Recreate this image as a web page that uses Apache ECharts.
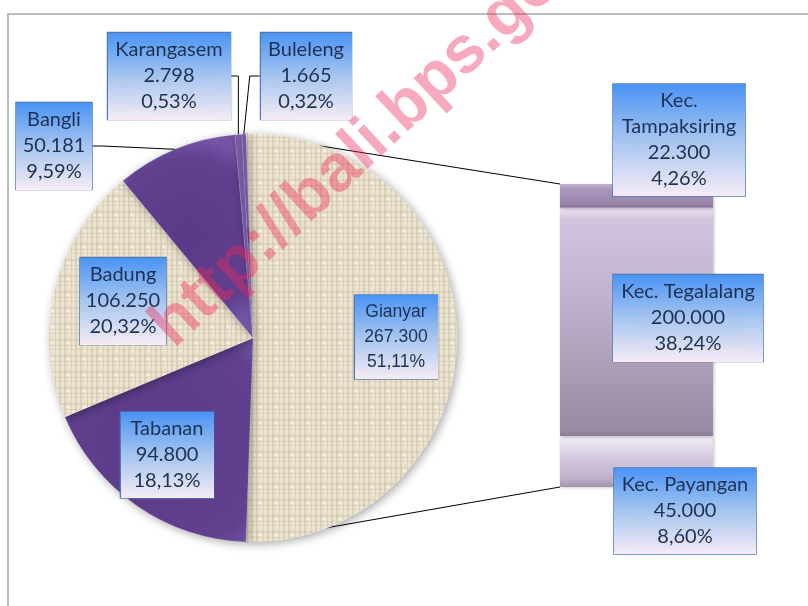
<!DOCTYPE html>
<html><head><meta charset="utf-8">
<script src="https://cdn.jsdelivr.net/npm/echarts@6/dist/echarts.min.js"></script>
<style>html,body{margin:0;padding:0;background:#fff}#c{width:808px;height:606px}</style>
</head><body><div id="c"></div>
<script>
// ---- data ----
const regencies = ['Gianyar', 'Tabanan', 'Badung', 'Bangli', 'Karangasem', 'Buleleng'];
const regencyValues = [267300, 94800, 106250, 50181, 2798, 1665];
const districts = ['Kec. Tampaksiring', 'Kec. Tegalalang', 'Kec. Payangan'];
const districtValues = [22300, 200000, 45000];

// ---- layout / style (not data) ----
const PIE_CX = 253, PIE_CY = 338, PIE_R = 204, PIE_START = 92;
const GRID = { left: 560, top: 184, width: 153, height: 303 };
// label boxes: [centerX, centerY, width, height]
const pieLabelBoxes = [[396, 337, 83, 84], [167, 455, 93, 86], [123, 301, 86, 87], [54, 146, 76, 87], [169, 76, 123, 87], [306, 76, 91, 87]];
const pieLabelOutside = [false, false, false, true, true, true];
const pieColors = ['beige', 'purple', 'beige', 'purple', 'purple2', 'purple'];
const barLabelBoxes = [[679, 140, 132, 112], [688, 318, 150, 87], [685, 511, 142, 86]];
const barLabelNames = ['Kec.\nTampaksiring', 'Kec. Tegalalang', 'Kec. Payangan'];

const total = regencyValues.reduce((a, b) => a + b, 0);
const subTotal = districtValues.reduce((a, b) => a + b, 0);
const fmtNum = v => String(v).replace(/\B(?=(\d{3})+(?!\d))/g, '.');
const fmtPct = v => (v / total * 100).toFixed(2).replace('.', ',') + '%';

// gradient image for label boxes
function makeGrad() {
  const c = document.createElement('canvas'); c.width = 4; c.height = 120;
  const g = c.getContext('2d');
  const gr = g.createLinearGradient(0, 0, 0, 120);
  gr.addColorStop(0, '#4a94f5'); gr.addColorStop(0.5, '#a6c5f0'); gr.addColorStop(1, '#f6ecf6');
  g.fillStyle = gr; g.fillRect(0, 0, 4, 120);
  return c;
}
const boxBg = { image: makeGrad() };

// burlap texture for beige slices (fixed weave pattern)
function makeTexture() {
  const c = document.createElement('canvas'); c.width = 16; c.height = 16;
  const g = c.getContext('2d');
  g.fillStyle = '#ebe3d0'; g.fillRect(0, 0, 16, 16);
  g.fillStyle = 'rgba(150,128,90,0.17)';
  g.fillRect(0, 0, 2, 16); g.fillRect(7, 0, 1, 16); g.fillRect(11, 0, 2, 16);
  g.fillStyle = 'rgba(150,128,90,0.14)';
  g.fillRect(0, 3, 16, 2); g.fillRect(0, 9, 16, 1); g.fillRect(0, 13, 16, 1);
  g.fillStyle = 'rgba(255,252,240,0.45)';
  g.fillRect(3, 6, 3, 2); g.fillRect(9, 11, 2, 1); g.fillRect(14, 6, 1, 2); g.fillRect(4, 14, 2, 1);
  g.fillStyle = 'rgba(120,100,70,0.12)';
  g.fillRect(5, 1, 1, 1); g.fillRect(13, 8, 1, 1); g.fillRect(2, 11, 1, 1);
  return c;
}
const beigeTex = { image: makeTexture(), repeat: 'repeat' };
const purpleFill = {
  type: 'radial', x: 0.5, y: 0.5, r: 0.75,
  colorStops: [{ offset: 0, color: '#5a3a88' }, { offset: 0.8, color: '#60408f' }, { offset: 1, color: '#7455a6' }]
};
const purple2Fill = '#7a5eaa';
const colorFor = k => k === 'beige' ? beigeTex : (k === 'purple' ? purpleFill : purple2Fill);

function boxLabel(box, lines, font, size, lh, extra) {
  const pv = Math.max(0, (box[3] - lines * lh) / 2);
  return Object.assign({
    show: true, color: '#1f3152', fontFamily: font, fontSize: size, lineHeight: lh,
    width: box[2], padding: [pv, 0, pv, 0], align: 'center',
    backgroundColor: boxBg, borderColor: '#4f7ab6', borderWidth: 1.5
  }, extra || {});
}

const pieData = regencies.map((name, i) => {
  const gian = i === 0;
  return {
    name, value: regencyValues[i],
    itemStyle: { color: colorFor(pieColors[i]) },
    label: boxLabel(pieLabelBoxes[i], 3, gian ? 'Liberation Sans' : 'Lato', gian ? 17.5 : 20, gian ? 25 : 26,
      { position: pieLabelOutside[i] ? 'outside' : 'inside' }),
    labelLine: { show: pieLabelOutside[i], lineStyle: { color: '#000', width: 1 }, length: 10, length2: 10 }
  };
});

const barFills = [
  { type: 'linear', x: 0, y: 0, x2: 0, y2: 1, colorStops: [
    { offset: 0, color: '#c2b0d0' }, { offset: 0.2, color: '#ab97bd' }, { offset: 0.75, color: '#9985ab' }, { offset: 0.9, color: '#8a7699' }, { offset: 1, color: '#e6dcec' }] },
  { type: 'linear', x: 0, y: 0, x2: 0, y2: 1, colorStops: [
    { offset: 0, color: '#efe7f3' }, { offset: 0.04, color: '#d2c4de' }, { offset: 0.35, color: '#c3b4cf' }, { offset: 0.97, color: '#9a8ba5' }, { offset: 1, color: '#8c7d97' }] },
  { type: 'linear', x: 0, y: 0, x2: 0, y2: 1, colorStops: [
    { offset: 0, color: '#f5f0f7' }, { offset: 0.3, color: '#dcd2e5' }, { offset: 0.8, color: '#c0b3cb' }, { offset: 1, color: '#a396ae' }] }
];

const barSeries = districts.map((name, i) => ({
  type: 'bar', name, stack: 'g', data: [districtValues[i]],
  barWidth: '100%', barCategoryGap: 0,
  itemStyle: { color: barFills[i], shadowBlur: 3, shadowColor: 'rgba(0,0,0,0.25)', shadowOffsetX: 1, shadowOffsetY: 1 },
  label: boxLabel(barLabelBoxes[i], barLabelNames[i].split('\n').length + 2, 'Lato', 20, 26, {
    position: 'inside',
    formatter: () => barLabelNames[i] + '\n' + fmtNum(districtValues[i]) + '\n' + fmtPct(districtValues[i])
  }),
  labelLayout: () => ({ x: barLabelBoxes[i][0], y: barLabelBoxes[i][1], align: 'center', verticalAlign: 'middle' }),
  z: 3
})).reverse();

const chart = echarts.init(document.getElementById('c'), null, { renderer: 'canvas' });
const option = {
  animation: false,
  backgroundColor: '#ffffff',
  grid: { left: GRID.left, top: GRID.top, width: GRID.width, height: GRID.height, containLabel: false },
  xAxis: { type: 'category', data: ['Gianyar'], show: false },
  yAxis: { type: 'value', min: 0, max: subTotal, show: false },
  series: [
    {
      type: 'pie', center: [PIE_CX, PIE_CY], radius: PIE_R, startAngle: PIE_START, clockwise: true,
      avoidLabelOverlap: false, silent: true,
      itemStyle: { borderColor: 'rgba(255,255,255,0.25)', borderWidth: 0.5, shadowBlur: 10, shadowColor: 'rgba(0,0,0,0.35)', shadowOffsetX: 2, shadowOffsetY: 2 },
      label: { formatter: p => p.name + '\n' + fmtNum(p.value) + '\n' + fmtPct(p.value) },
      labelLayout: p => ({ x: pieLabelBoxes[p.dataIndex][0], y: pieLabelBoxes[p.dataIndex][1], align: 'center', verticalAlign: 'middle' }),
      data: pieData, z: 2
    }
  ].concat(barSeries)
};
chart.setOption(option);

// connector lines from split slice edges to the bar, frame and watermark
const topY = chart.convertToPixel({ xAxisIndex: 0, yAxisIndex: 0 }, [0, subTotal])[1];
const botY = chart.convertToPixel({ xAxisIndex: 0, yAxisIndex: 0 }, [0, 0])[1];
const a0 = PIE_START * Math.PI / 180;
const a1 = (PIE_START - regencyValues[0] / total * 360) * Math.PI / 180;
const p0 = [PIE_CX + PIE_R * Math.cos(a0), PIE_CY - PIE_R * Math.sin(a0)];
const p1 = [PIE_CX + PIE_R * Math.cos(a1), PIE_CY - PIE_R * Math.sin(a1)];
chart.setOption({
  graphic: [
    { type: 'line', z: 1, shape: { x1: p0[0], y1: p0[1], x2: GRID.left, y2: topY }, style: { stroke: '#000', lineWidth: 1 } },
    { type: 'line', z: 1, shape: { x1: p1[0], y1: p1[1], x2: GRID.left, y2: botY }, style: { stroke: '#000', lineWidth: 1 } },
    { type: 'polyline', z: 50, shape: { points: [[8, 606], [8, 14], [808, 14]] }, style: { stroke: '#a6a6a6', lineWidth: 1.5, fill: null } },
    { type: 'text', z: 100, x: 184, y: 360, rotation: 43 * Math.PI / 180,
      style: { text: 'http://bali.bps.go.id', font: 'bold 66px "Liberation Sans"', fill: 'rgba(240,40,90,0.40)', verticalAlign: 'bottom', align: 'left' } }
  ]
});
</script>
</body></html>
